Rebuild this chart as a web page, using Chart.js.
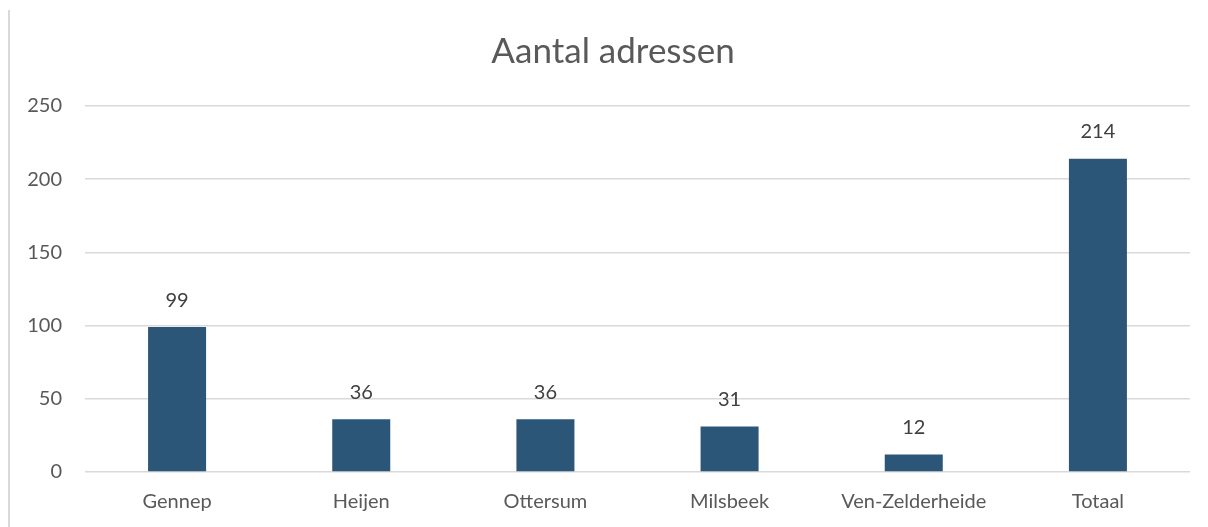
<!DOCTYPE html>
<html>
<head>
<meta charset="utf-8">
<script src="https://cdn.jsdelivr.net/npm/chart.js@4/dist/chart.umd.min.js"></script>
<style>
    body { margin: 0; background: #fff; }
    #wrap { position: relative; width: 1208px; height: 527px; }
    #edge { position: absolute; left: 8px; top: 10px; width: 2px; height: 517px; background: #d9d9d9; }
</style>
</head>
<body>
<div id="wrap">
    <div id="edge"></div>
    <canvas id="chart" width="1208" height="527"></canvas>
</div>
<script>
const chartTitle = "Aantal adressen";
const categories = ["Gennep", "Heijen", "Ottersum", "Milsbeek", "Ven-Zelderheide", "Totaal"];
const adressen = [99, 36, 36, 31, 12, 214];
const yTicks = [0, 50, 100, 150, 200, 250];

// titel gecentreerd over de hele figuur, waarden boven de balken
const barLabels = {
    id: "barLabels",
    afterDatasetsDraw(chart) {
        const ctx = chart.ctx;
        const meta = chart.getDatasetMeta(0);
        ctx.save();
        ctx.textAlign = "center";
        ctx.textBaseline = "middle";

        ctx.font = "35px Lato";
        ctx.fillStyle = "#595959";
        ctx.fillText(chartTitle, 613, 52);

        ctx.font = "20px Lato";
        ctx.fillStyle = "#404040";
        meta.data.forEach((bar, i) => {
            ctx.fillText(adressen[i], bar.x, bar.y - 27);
        });
        ctx.restore();
    }
};

new Chart(document.getElementById("chart").getContext("2d"), {
    type: "bar",
    data: {
        labels: categories,
        datasets: [{
            data: adressen,
            backgroundColor: "#2c5677",
            categoryPercentage: 1,
            barPercentage: 0.315
        }]
    },
    options: {
        responsive: false,
        animation: false,
        layout: { padding: { top: 106, right: 18, bottom: 0, left: 0 } },
        plugins: {
            legend: { display: false },
            tooltip: { enabled: false },
            title: { display: false }
        },
        scales: {
            x: {
                afterFit: s => { s.height = 55; },
                grid: { display: false },
                border: { display: false },
                ticks: { color: "#595959", font: { family: "Lato", size: 20 }, padding: 10, maxRotation: 0 }
            },
            y: {
                min: yTicks[0],
                max: yTicks[yTicks.length - 1],
                afterBuildTicks: s => { s.ticks = yTicks.map(v => ({ value: v })); },
                afterFit: s => { s.width = 85; },
                grid: { color: "#d9d9d9", lineWidth: 1.5, drawTicks: false },
                border: { display: false },
                ticks: { color: "#595959", font: { family: "Lato", size: 20 }, padding: 23 }
            }
        }
    },
    plugins: [barLabels]
});
</script>
</body>
</html>
